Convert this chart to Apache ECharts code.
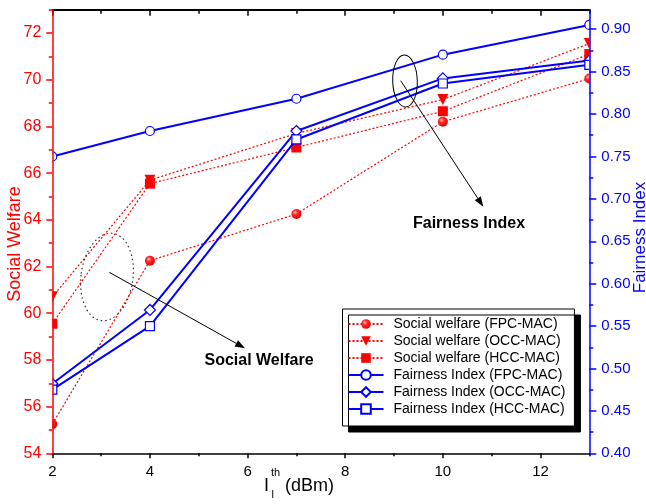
<!DOCTYPE html>
<html>
<head>
<meta charset="utf-8">
<script src="https://cdn.jsdelivr.net/npm/echarts@6/dist/echarts.min.js"></script>
<style>
  html, body { margin: 0; padding: 0; background: #fff; }
  #chart { width: 646px; height: 504px; }
</style>
</head>
<body>
<div id="chart"></div>
<script>
// Interference threshold values (dBm)
const thresholds = [2, 4, 7, 10, 13];

// Social welfare (left axis)
const swFPC = [55.25, 62.25, 64.25, 68.2, 70.05];
const swOCC = [60.7, 65.7, 67.7, 69.15, 71.55];
const swHCC = [59.55, 65.55, 67.1, 68.65, 71.1];

// Fairness index (right axis)
const fiFPC = [0.750, 0.780, 0.818, 0.870, 0.905];
const fiOCC = [0.482, 0.569, 0.780, 0.842, 0.863];
const fiHCC = [0.475, 0.550, 0.770, 0.836, 0.858];

// Tick values
const xMajor = [2, 4, 6, 8, 10, 12];
const xMinor = [3, 5, 7, 9, 11, 13];
const swMajor = [54, 56, 58, 60, 62, 64, 66, 68, 70, 72];
const swMinor = [55, 57, 59, 61, 63, 65, 67, 69, 71, 73];
const fiMajor = [0.40, 0.45, 0.50, 0.55, 0.60, 0.65, 0.70, 0.75, 0.80, 0.85, 0.90];
const fiMinor = [0.425, 0.475, 0.525, 0.575, 0.625, 0.675, 0.725, 0.775, 0.825, 0.875];

const RED = '#ff0000';
const BLUE = '#0000ff';
const FONT = 'Liberation Sans, Arial, sans-serif';
const W = 646, H = 504;
const GRID = { left: 52.3, right: 56.7, top: 9.7, bottom: 50.7 };

const pairs = arr => thresholds.map((x, i) => [x, arr[i]]);

const sphere = {
  type: 'radial', x: 0.38, y: 0.35, r: 0.7,
  colorStops: [
    { offset: 0, color: '#ffc0c0' },
    { offset: 0.35, color: '#ff2a2a' },
    { offset: 1, color: '#d80000' }
  ]
};

function swSeries(name, data, symbol, size, color) {
  return {
    name, type: 'line', data: pairs(data), xAxisIndex: 0, yAxisIndex: 0,
    symbol, symbolSize: size, showAllSymbol: true, clip: false,
    lineStyle: { color: RED, width: 1.2, type: [2, 2] },
    itemStyle: { color: color, borderWidth: 0 },
    z: 3
  };
}
function fiSeries(name, data, symbol, size) {
  return {
    name, type: 'line', data: pairs(data), xAxisIndex: 0, yAxisIndex: 2,
    symbol, symbolSize: size, showAllSymbol: true, clip: false,
    lineStyle: { color: BLUE, width: 2 },
    itemStyle: { color: '#ffffff', borderColor: BLUE, borderWidth: 1.2 },
    z: 4
  };
}

function xAxisDef(pos, ticks, len, inside, showLine, lineW, labels) {
  return {
    type: 'value', min: 2, max: 13, position: pos, z: 40,
    axisLine: { show: showLine, onZero: false, lineStyle: { color: '#000', width: lineW } },
    axisTick: { show: true, customValues: ticks, length: len, inside: inside, lineStyle: { color: '#000', width: 1.5 } },
    axisLabel: labels ? { show: true, customValues: xMajor, color: '#000', fontSize: 15, fontFamily: FONT, margin: 11 } : { show: false },
    splitLine: { show: false }
  };
}
function yAxisDef(pos, min, max, ticks, len, color, showLine, labels, fmt, fs, margin) {
  return {
    type: 'value', min, max, position: pos, z: 41,
    axisLine: { show: showLine, onZero: false, lineStyle: { color, width: 1.5 } },
    axisTick: { show: true, customValues: ticks, length: len, inside: false, lineStyle: { color, width: 1.5 } },
    axisLabel: labels ? { show: true, customValues: labels, color, fontSize: fs, fontFamily: FONT, margin, formatter: fmt } : { show: false },
    splitLine: { show: false }
  };
}

// Arrow annotation: line plus filled head
function arrow(x1, y1, x2, y2) {
  const a = Math.atan2(y2 - y1, x2 - x1);
  const L = 10, HW = 3.6;
  const bx = x2 - L * Math.cos(a), by = y2 - L * Math.sin(a);
  const px = -Math.sin(a) * HW, py = Math.cos(a) * HW;
  return [
    { type: 'line', shape: { x1, y1, x2: bx, y2: by }, style: { stroke: '#000', lineWidth: 1 }, z: 50 },
    { type: 'polygon', shape: { points: [[x2, y2], [bx + px, by + py], [bx - px, by - py]] }, style: { fill: '#000' }, z: 50 }
  ];
}

// White margins keep markers trimmed to the plotting frame
const plotRight = W - GRID.right, plotBottom = H - GRID.bottom;
const mask = [
  { type: 'rect', shape: { x: 0, y: 0, width: GRID.left, height: H } },
  { type: 'rect', shape: { x: plotRight, y: 0, width: GRID.right, height: H } },
  { type: 'rect', shape: { x: 0, y: 0, width: W, height: GRID.top } },
  { type: 'rect', shape: { x: 0, y: plotBottom, width: W, height: GRID.bottom } }
].map(r => Object.assign(r, { style: { fill: '#ffffff' }, z: 20, silent: true }));

const graphics = [
  ...mask,
  // axis titles
  { type: 'text', x: 15, y: 244, rotation: Math.PI / 2,
    style: { text: 'Social Welfare', fill: RED, font: '18px ' + FONT, align: 'center', verticalAlign: 'middle' }, z: 50 },
  { type: 'text', x: 640, y: 237.5, rotation: Math.PI / 2,
    style: { text: 'Fairness Index', fill: BLUE, font: '17px ' + FONT, align: 'center', verticalAlign: 'middle' }, z: 50 },
  // x-axis title: I_l^th (dBm)
  { type: 'text', x: 264, y: 486, style: { text: 'I', fill: '#000', font: '18px ' + FONT, align: 'left', verticalAlign: 'middle' }, z: 50 },
  { type: 'text', x: 271, y: 473, style: { text: 'th', fill: '#000', font: '11px ' + FONT, align: 'left', verticalAlign: 'middle' }, z: 50 },
  { type: 'text', x: 271.5, y: 495, style: { text: 'l', fill: '#000', font: '11px ' + FONT, align: 'left', verticalAlign: 'middle' }, z: 50 },
  { type: 'text', x: 285, y: 486, style: { text: '(dBm)', fill: '#000', font: '18px ' + FONT, align: 'left', verticalAlign: 'middle' }, z: 50 },
  // social welfare annotation
  { type: 'ellipse', x: 107, y: 277, originX: 0, originY: 0, rotation: -0.13,
    shape: { cx: 0, cy: 0, rx: 26, ry: 44 },
    style: { fill: 'none', stroke: '#333', lineWidth: 1.2, lineDash: [1.5, 3] }, z: 50 },
  ...arrow(109.3, 272.3, 245, 348.3),
  { type: 'text', x: 259, y: 360.5, style: { text: 'Social Welfare', fill: '#000', font: 'bold 16px ' + FONT, align: 'center', verticalAlign: 'middle' }, z: 50 },
  // fairness index annotation
  { type: 'ellipse', x: 405, y: 81, originX: 0, originY: 0, rotation: 0.03,
    shape: { cx: 0, cy: 0, rx: 12.3, ry: 26 },
    style: { fill: 'none', stroke: '#000', lineWidth: 1 }, z: 50 },
  ...arrow(400.7, 80.7, 483.3, 206.7),
  { type: 'text', x: 469, y: 224, style: { text: 'Fairness Index', fill: '#000', font: 'bold 16px ' + FONT, align: 'center', verticalAlign: 'middle' }, z: 50 }
];

const option = {
  animation: false,
  backgroundColor: '#ffffff',
  grid: Object.assign({ containLabel: false }, GRID),
  legend: {
    orient: 'vertical', left: 342.5, top: 309, z: 45,
    padding: [8, 9, 10, 5],
    itemWidth: 35, itemHeight: 12, itemGap: 3,
    backgroundColor: '#ffffff', borderColor: '#000', borderWidth: 1,
    shadowColor: '#000', shadowBlur: 0, shadowOffsetX: 6, shadowOffsetY: 6,
    textStyle: { color: '#000', fontSize: 14, fontFamily: FONT, padding: [0, 0, 0, 5] },
    data: [
      'Social welfare (FPC-MAC)', 'Social welfare (OCC-MAC)', 'Social welfare (HCC-MAC)',
      'Fairness Index (FPC-MAC)', 'Fairness Index (OCC-MAC)', 'Fairness Index (HCC-MAC)'
    ]
  },
  xAxis: [
    xAxisDef('bottom', xMajor, 5, false, true, 1.5, true),
    xAxisDef('bottom', xMinor, 3, false, false, 1.5, false),
    xAxisDef('top', xMajor, 6, true, true, 2, false),
    xAxisDef('top', xMinor, 4, true, false, 2, false)
  ],
  yAxis: [
    yAxisDef('left', 54, 73, swMajor, 6, RED, true, swMajor, v => String(v), 16, 11),
    yAxisDef('left', 54, 73, swMinor, 3.5, RED, false, null),
    yAxisDef('right', 0.40, 0.923, fiMajor, 7, BLUE, true, fiMajor, v => v.toFixed(2), 15, 12),
    yAxisDef('right', 0.40, 0.923, fiMinor, 4, BLUE, false, null)
  ],
  series: [
    swSeries('Social welfare (FPC-MAC)', swFPC, 'circle', 10, sphere),
    swSeries('Social welfare (OCC-MAC)', swOCC, 'triangle', 11, RED),
    swSeries('Social welfare (HCC-MAC)', swHCC, 'rect', 10, RED),
    fiSeries('Fairness Index (FPC-MAC)', fiFPC, 'circle', 9),
    fiSeries('Fairness Index (OCC-MAC)', fiOCC, 'diamond', 11),
    fiSeries('Fairness Index (HCC-MAC)', fiHCC, 'rect', 9)
  ],
  graphic: graphics
};

// OCC triangles point downward
option.series[1].symbolRotate = 180;

const chart = echarts.init(document.getElementById('chart'), null, { renderer: 'canvas' });
chart.setOption(option);
</script>
</body>
</html>
